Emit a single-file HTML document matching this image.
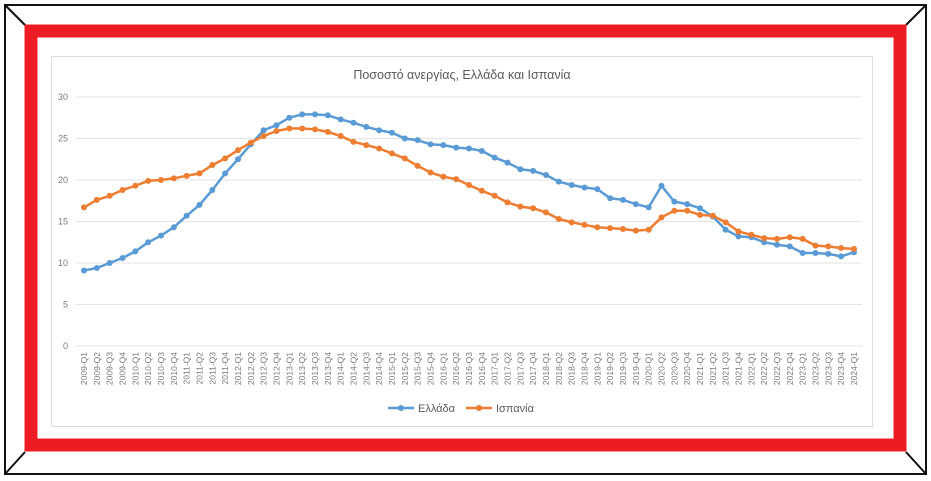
<!DOCTYPE html>
<html><head><meta charset="utf-8"><style>
body{margin:0;background:#fff;}
svg{display:block;font-family:"Liberation Sans",sans-serif;}
</style></head><body>
<svg id="s" width="931" height="481" viewBox="0 0 931 481" xmlns="http://www.w3.org/2000/svg">
<rect x="0" y="0" width="931" height="481" fill="#fff"/>
<rect x="5" y="5" width="921" height="469" fill="none" stroke="#111" stroke-width="2"/>
<line x1="5" y1="5" x2="25" y2="25" stroke="#111" stroke-width="2"/>
<line x1="926" y1="5" x2="906" y2="25" stroke="#111" stroke-width="2"/>
<line x1="5" y1="474" x2="25" y2="452" stroke="#111" stroke-width="2"/>
<line x1="926" y1="474" x2="906" y2="452" stroke="#111" stroke-width="2"/>
<rect x="31" y="31" width="869" height="414" fill="none" stroke="#ed1c24" stroke-width="13"/>
<rect x="51.5" y="56.5" width="821" height="370" fill="#fff" stroke="#dcdcdc" stroke-width="1"/>
<text x="462" y="79" font-size="12.5" fill="#595959" text-anchor="middle">Ποσοστό ανεργίας, Ελλάδα και Ισπανία</text>
<g id="g"></g>
<g font-size="11" fill="#595959">
<line x1="388" y1="408" x2="414" y2="408" stroke="#5b9bd5" stroke-width="2.5"/><circle cx="401" cy="408" r="3" fill="#5b9bd5"/>
<text x="418" y="412">Ελλάδα</text>
<line x1="466" y1="408" x2="492" y2="408" stroke="#ed7d31" stroke-width="2.5"/><circle cx="479" cy="408" r="3" fill="#ed7d31"/>
<text x="496" y="412">Ισπανία</text>
</g>
</svg>
<script>
var gr=[9.1,9.4,10.0,10.6,11.4,12.5,13.3,14.3,15.7,17.0,18.8,20.8,22.5,24.3,26.0,26.6,27.5,27.9,27.9,27.8,27.3,26.9,26.4,26.0,25.7,25.0,24.8,24.3,24.2,23.9,23.8,23.5,22.7,22.1,21.3,21.1,20.6,19.8,19.4,19.1,18.9,17.8,17.6,17.1,16.7,19.3,17.4,17.1,16.6,15.6,14.0,13.2,13.1,12.5,12.2,12.0,11.2,11.2,11.1,10.8,11.3];
var sp=[16.7,17.6,18.1,18.8,19.3,19.9,20.0,20.2,20.5,20.8,21.8,22.6,23.6,24.5,25.3,25.9,26.2,26.2,26.1,25.8,25.3,24.6,24.2,23.8,23.2,22.6,21.7,20.9,20.4,20.1,19.4,18.7,18.1,17.3,16.8,16.6,16.1,15.3,14.9,14.6,14.3,14.2,14.1,13.9,14.0,15.5,16.3,16.3,15.8,15.7,14.9,13.8,13.4,13.0,12.9,13.1,12.9,12.1,12.0,11.8,11.7];
var x0=84,dx=(854-84)/60,y0=346,k=(346-97)/30;
function X(i){return x0+i*dx}function Y(v){return y0-v*k}
var h='';
for(var v=0;v<=30;v+=5){var y=Y(v);h+='<line x1="76" x2="862" y1="'+y+'" y2="'+y+'" stroke="#e3e3e3"/>';
h+='<text x="68" y="'+(y+3)+'" font-size="9" fill="#7a7a7a" text-anchor="end">'+v+'</text>';}
for(var i=0;i<61;i++){var yr=2009+Math.floor(i/4),q=i%4+1;var x=X(i)+3;
h+='<text transform="translate('+x+',352) rotate(-90)" font-size="8.5" fill="#7a7a7a" text-anchor="end">'+yr+'-Q'+q+'</text>';}
function ser(d,c){var p=d.map(function(v,i){return X(i).toFixed(1)+','+Y(v).toFixed(1)}).join(' ');
var s='<polyline points="'+p+'" fill="none" stroke="'+c+'" stroke-width="2.5" stroke-linejoin="round"/>';
d.forEach(function(v,i){s+='<circle cx="'+X(i)+'" cy="'+Y(v)+'" r="3" fill="'+c+'"/>'});return s;}
h+=ser(gr,'#5b9bd5')+ser(sp,'#ed7d31');
document.getElementById('g').innerHTML=h;
</script>
</body></html>
